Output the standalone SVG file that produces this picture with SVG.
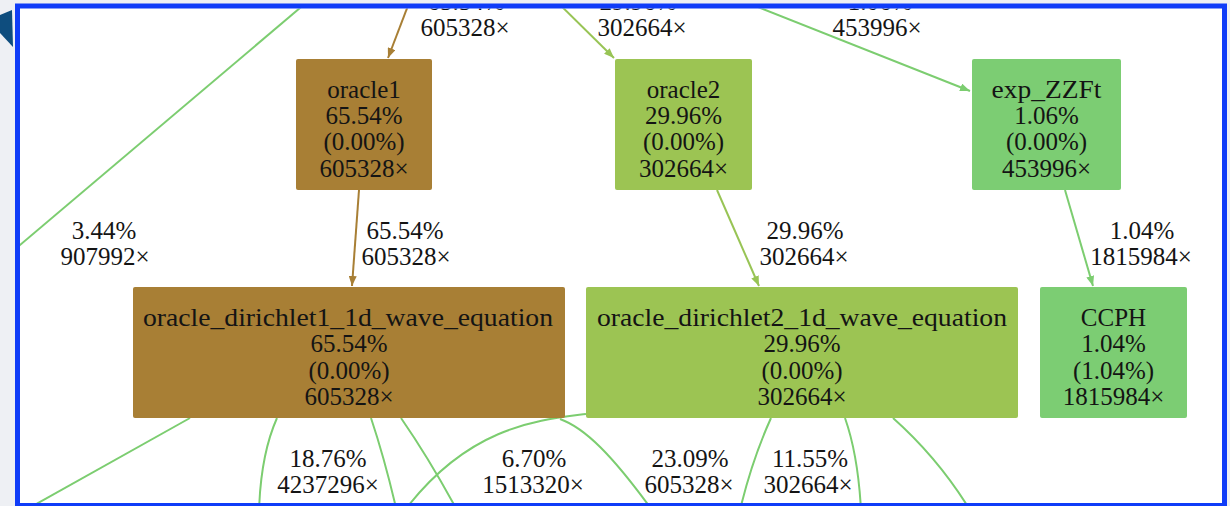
<svg xmlns="http://www.w3.org/2000/svg" width="1230" height="506" viewBox="0 0 1230 506">
  <style>
    text { font-family: "Liberation Serif", "Times New Roman", serif; font-size: 25px; fill: #141414; text-anchor: middle; }
    .edge { fill: none; stroke-width: 2; }
    .g { stroke: #7ccd70; }
    .y { stroke: #98c455; }
    .b { stroke: #a87f35; }
  </style>
  <defs>
    <marker id="ahG" markerUnits="userSpaceOnUse" markerWidth="10" markerHeight="8" refX="10" refY="4" orient="auto">
      <path d="M0,0 L10,4 L0,8 z" fill="#7ccd70"/>
    </marker>
    <marker id="ahY" markerUnits="userSpaceOnUse" markerWidth="10" markerHeight="8" refX="10" refY="4" orient="auto">
      <path d="M0,0 L10,4 L0,8 z" fill="#98c455"/>
    </marker>
    <marker id="ahB" markerUnits="userSpaceOnUse" markerWidth="10" markerHeight="8" refX="10" refY="4" orient="auto">
      <path d="M0,0 L10,4 L0,8 z" fill="#a87f35"/>
    </marker>
    <clipPath id="view">
      <rect x="20" y="8.5" width="1202" height="495"/>
    </clipPath>
  </defs>

  <!-- page backdrop and side decoration -->
  <rect x="0" y="0" width="1230" height="506" fill="#eef0f4"/>
  <polygon points="0,15 12,10 13,47 0,33" fill="#0e4d7e"/>
  <rect x="17.5" y="5.5" width="1207" height="500" fill="#ffffff"/>

  <g clip-path="url(#view)">
    <!-- connectors -->
    <g id="edges">
      <path class="edge b" d="M414,-10 L388,58" marker-end="url(#ahB)"/>
      <path class="edge y" d="M545,-10 L614,58" marker-end="url(#ahY)"/>
      <path class="edge g" d="M720,-8 L970,91" marker-end="url(#ahG)"/>
      <path class="edge g" d="M320,-9 L0,262"/>
      <path class="edge b" d="M359,190 L352,286" marker-end="url(#ahB)"/>
      <path class="edge y" d="M717,190 L759,286" marker-end="url(#ahY)"/>
      <path class="edge g" d="M1065,190 L1093,286" marker-end="url(#ahG)"/>

      <path class="edge g" d="M190,418 L22,512"/>
      <path class="edge g" d="M277,418 C265,445 260,475 259,512"/>
      <path class="edge g" d="M371,418 Q385,460 397,512"/>
      <path class="edge g" d="M401,418 Q430,460 458,512"/>
      <path class="edge g" d="M586,414 C540,420 470,425 405,510"/>
      <path class="edge g" d="M560,419 C585,428 612,455 652,510"/>

      <path class="edge g" d="M771,418 Q752,460 740,510"/>
      <path class="edge g" d="M845,418 Q858,455 861,510"/>
      <path class="edge g" d="M893,418 Q938,458 970,510"/>

      <!-- connector labels -->
      <text x="466" y="9.5">65.54%</text>
      <text x="465" y="36">605328×</text>
      <text x="638" y="9.5">29.96%</text>
      <text x="642" y="36">302664×</text>
      <text x="880" y="9.5">1.06%</text>
      <text x="877" y="36">453996×</text>

      <text x="104" y="239">3.44%</text>
      <text x="105" y="265">907992×</text>
      <text x="405" y="239">65.54%</text>
      <text x="406" y="265">605328×</text>
      <text x="805" y="239">29.96%</text>
      <text x="804" y="265">302664×</text>
      <text x="1142" y="239">1.04%</text>
      <text x="1141" y="265">1815984×</text>

      <text x="328" y="467">18.76%</text>
      <text x="328" y="493">4237296×</text>
      <text x="534" y="467">6.70%</text>
      <text x="533" y="493">1513320×</text>
      <text x="690" y="467">23.09%</text>
      <text x="689" y="493">605328×</text>
      <text x="810" y="467">11.55%</text>
      <text x="808" y="493">302664×</text>
    </g>

    <!-- nodes -->
    <g id="oracle1">
      <rect x="296" y="59" width="136" height="131" rx="2" fill="#a87f35"/>
      <text x="364" y="97.5">oracle1</text>
      <text x="364" y="123.8">65.54%</text>
      <text x="364" y="150.2">(0.00%)</text>
      <text x="364" y="176.5">605328×</text>
    </g>
    <g id="oracle2">
      <rect x="615" y="59" width="137" height="131" rx="2" fill="#9cc453"/>
      <text x="683.5" y="97.5">oracle2</text>
      <text x="683.5" y="123.8">29.96%</text>
      <text x="683.5" y="150.2">(0.00%)</text>
      <text x="683.5" y="176.5">302664×</text>
    </g>
    <g id="exp_ZZFt">
      <rect x="972" y="59" width="149" height="131" rx="2" fill="#7ccd73"/>
      <text x="1046.5" y="97.5" textLength="110" lengthAdjust="spacingAndGlyphs">exp_ZZFt</text>
      <text x="1046.5" y="123.8">1.06%</text>
      <text x="1046.5" y="150.2">(0.00%)</text>
      <text x="1046.5" y="176.5">453996×</text>
    </g>
    <g id="oracle_dirichlet1_1d_wave_equation">
      <rect x="133" y="287" width="432" height="131" rx="2" fill="#a87f35"/>
      <text x="348" y="326" textLength="410" lengthAdjust="spacingAndGlyphs">oracle_dirichlet1_1d_wave_equation</text>
      <text x="349" y="352.3">65.54%</text>
      <text x="349" y="378.6">(0.00%)</text>
      <text x="349" y="405">605328×</text>
    </g>
    <g id="oracle_dirichlet2_1d_wave_equation">
      <rect x="586" y="287" width="432" height="131" rx="2" fill="#9cc453"/>
      <text x="802" y="326" textLength="410" lengthAdjust="spacingAndGlyphs">oracle_dirichlet2_1d_wave_equation</text>
      <text x="802" y="352.3">29.96%</text>
      <text x="802" y="378.6">(0.00%)</text>
      <text x="802" y="405">302664×</text>
    </g>
    <g id="CCPH">
      <rect x="1040" y="287" width="147" height="131" rx="2" fill="#7ccd73"/>
      <text x="1113.5" y="326">CCPH</text>
      <text x="1113.5" y="352.3">1.04%</text>
      <text x="1113.5" y="378.6">(1.04%)</text>
      <text x="1113.5" y="405">1815984×</text>
    </g>
  </g>

  <!-- frame -->
  <rect x="17.5" y="6" width="1207" height="499.5" fill="none" stroke="#0f3cf8" stroke-width="5"/>
</svg>
